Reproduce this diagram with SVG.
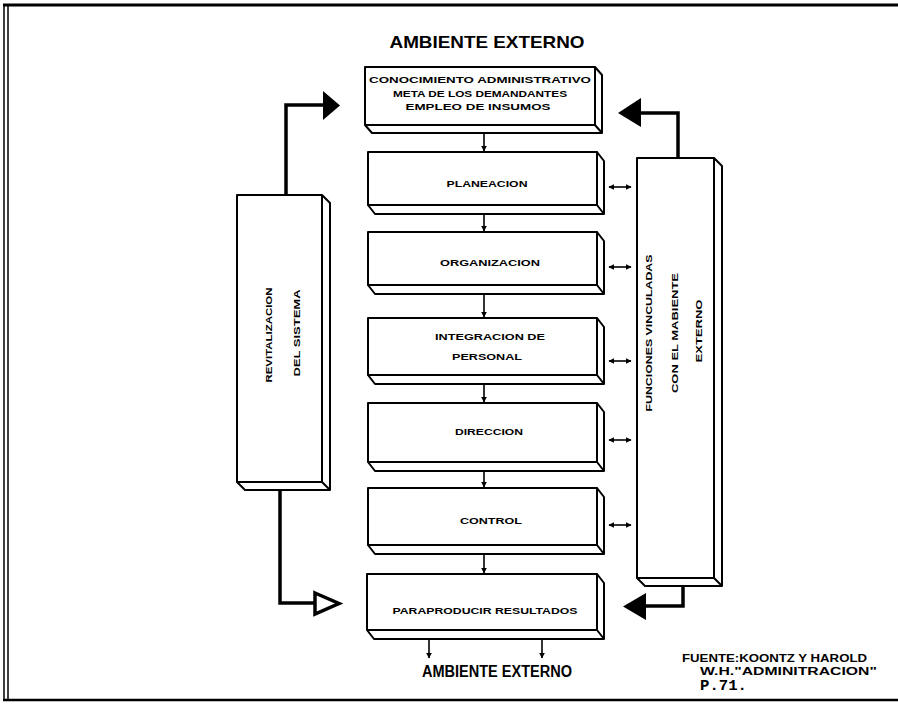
<svg xmlns="http://www.w3.org/2000/svg" width="898" height="707" viewBox="0 0 898 707">
<defs>
<marker id="ah" viewBox="0 0 10 10" refX="9" refY="5" markerWidth="6" markerHeight="6" markerUnits="userSpaceOnUse" orient="auto-start-reverse">
<path d="M0 0 L10 5 L0 10 Z" fill="#000"/>
</marker>
</defs>
<style>
.box{fill:#fff;stroke:#000;stroke-width:2;stroke-linejoin:round}
.face{fill:none;stroke:#000;stroke-width:2;stroke-linejoin:round}
.t{font-family:"Liberation Sans",Arial,sans-serif;font-weight:bold;font-size:9px;fill:#000;text-anchor:middle}
.big{font-family:"Liberation Sans",Arial,sans-serif;font-weight:bold;fill:#000;text-anchor:middle}
.thin{stroke:#000;stroke-width:1.6;fill:none}
.con{stroke:#000;stroke-width:3.5;fill:none;stroke-linejoin:miter}
</style>
<rect x="0" y="0" width="898" height="707" fill="#fff"/>
<g id="border" fill="none" stroke="#000">
<line x1="3" y1="5" x2="898" y2="5" stroke-width="3"/>
<line x1="4" y1="5" x2="4" y2="700" stroke-width="1.5"/>
<line x1="8" y1="5" x2="8" y2="700" stroke-width="1.5"/>
<line x1="3" y1="700" x2="898" y2="700" stroke-width="2.5"/>
</g>
<g id="title-top"><text class="big" x="487" y="48" font-size="17" textLength="195" lengthAdjust="spacingAndGlyphs">AMBIENTE EXTERNO</text></g>
<g id="title-bottom"><text class="big" x="497" y="677" font-size="16" textLength="150" lengthAdjust="spacingAndGlyphs">AMBIENTE EXTERNO</text></g>

<g id="n-conocimiento">
<rect class="box" x="365" y="67" width="230" height="58"/>
<path class="face" d="M595 67 L602 75 V133 H372 L365 125 M595 125 L602 133"/>
<text class="t" x="480" y="83" textLength="222" lengthAdjust="spacingAndGlyphs">CONOCIMIENTO ADMINISTRATIVO</text>
<text class="t" x="480" y="97" textLength="174" lengthAdjust="spacingAndGlyphs">META DE LOS DEMANDANTES</text>
<text class="t" x="478" y="110" textLength="145" lengthAdjust="spacingAndGlyphs">EMPLEO DE INSUMOS</text>
</g>
<g id="n-planeacion">
<rect class="box" x="368" y="152" width="229" height="53"/>
<path class="face" d="M597 152 L604 161 V214 H375 L368 205 M597 205 L604 214"/>
<text class="t" x="487" y="187" textLength="81" lengthAdjust="spacingAndGlyphs">PLANEACION</text>
</g>
<g id="n-organizacion">
<rect class="box" x="368" y="232" width="229" height="53"/>
<path class="face" d="M597 232 L604 241 V294 H375 L368 285 M597 285 L604 294"/>
<text class="t" x="490" y="266" textLength="100" lengthAdjust="spacingAndGlyphs">ORGANIZACION</text>
</g>
<g id="n-integracion">
<rect class="box" x="368" y="318" width="229" height="57"/>
<path class="face" d="M597 318 L604 327 V384 H375 L368 375 M597 375 L604 384"/>
<text class="t" x="490" y="340" textLength="110" lengthAdjust="spacingAndGlyphs">INTEGRACION DE</text>
<text class="t" x="487" y="360" textLength="70" lengthAdjust="spacingAndGlyphs">PERSONAL</text>
</g>
<g id="n-direccion">
<rect class="box" x="368" y="403" width="229" height="59"/>
<path class="face" d="M597 403 L604 412 V471 H375 L368 462 M597 462 L604 471"/>
<text class="t" x="489" y="435" textLength="68" lengthAdjust="spacingAndGlyphs">DIRECCION</text>
</g>
<g id="n-control">
<rect class="box" x="368" y="488" width="229" height="57"/>
<path class="face" d="M597 488 L604 497 V554 H375 L368 545 M597 545 L604 554"/>
<text class="t" x="491" y="524" textLength="62" lengthAdjust="spacingAndGlyphs">CONTROL</text>
</g>
<g id="n-resultados">
<rect class="box" x="367" y="574" width="230" height="56"/>
<path class="face" d="M597 574 L604 583 V639 H374 L367 630 M597 630 L604 639"/>
<text class="t" x="485" y="614" textLength="185" lengthAdjust="spacingAndGlyphs">PARAPRODUCIR RESULTADOS</text>
</g>
<g id="n-revitalizacion">
<rect class="box" x="237" y="195" width="85" height="287"/>
<path class="face" d="M322 195 L330 203 V490 H245 L237 482 M322 482 L330 490"/>
<text class="t" x="272" y="335" transform="rotate(-90 272 335)" textLength="95" lengthAdjust="spacingAndGlyphs">REVITALIZACION</text>
<text class="t" x="300" y="333" transform="rotate(-90 300 333)" textLength="87" lengthAdjust="spacingAndGlyphs">DEL SISTEMA</text>
</g>
<g id="n-funciones">
<rect class="box" x="637" y="158" width="77" height="420"/>
<path class="face" d="M714 158 L722 166 V586 H645 L637 578 M714 578 L722 586"/>
<text class="t" x="652" y="333" transform="rotate(-90 652 333)" textLength="157" lengthAdjust="spacingAndGlyphs">FUNCIONES VINCULADAS</text>
<text class="t" x="678" y="333" transform="rotate(-90 678 333)" textLength="120" lengthAdjust="spacingAndGlyphs">CON EL MABIENTE</text>
<text class="t" x="702" y="331" transform="rotate(-90 702 331)" textLength="63" lengthAdjust="spacingAndGlyphs">EXTERNO</text>
</g>

<g id="connectors">
<line class="thin" x1="484" y1="133" x2="484" y2="151" marker-end="url(#ah)"/>
<line class="thin" x1="484" y1="214" x2="484" y2="231" marker-end="url(#ah)"/>
<line class="thin" x1="484" y1="294" x2="484" y2="317" marker-end="url(#ah)"/>
<line class="thin" x1="484" y1="384" x2="484" y2="402" marker-end="url(#ah)"/>
<line class="thin" x1="484" y1="471" x2="484" y2="487" marker-end="url(#ah)"/>
<line class="thin" x1="484" y1="554" x2="484" y2="573" marker-end="url(#ah)"/>
<line class="thin" x1="429" y1="639" x2="429" y2="658" marker-end="url(#ah)"/>
<line class="thin" x1="542" y1="639" x2="542" y2="658" marker-end="url(#ah)"/>
<line class="thin" x1="609" y1="187" x2="631" y2="187" marker-start="url(#ah)" marker-end="url(#ah)"/>
<line class="thin" x1="609" y1="267" x2="631" y2="267" marker-start="url(#ah)" marker-end="url(#ah)"/>
<line class="thin" x1="609" y1="361" x2="631" y2="361" marker-start="url(#ah)" marker-end="url(#ah)"/>
<line class="thin" x1="609" y1="440" x2="631" y2="440" marker-start="url(#ah)" marker-end="url(#ah)"/>
<line class="thin" x1="609" y1="525" x2="631" y2="525" marker-start="url(#ah)" marker-end="url(#ah)"/>
<polyline class="con" points="286,195 286,105 324,105"/>
<polygon points="323,91 340,105.5 323,120" fill="#000"/>
<polyline class="con" points="678,158 678,113 639,113"/>
<polygon points="641,98 618,113 641,127" fill="#000"/>
<polyline class="con" points="280,490 280,603 318,603"/>
<polygon points="315,593 339,603.5 315,614" fill="#fff" stroke="#000" stroke-width="3.5" stroke-linejoin="miter"/>
<polyline class="con" points="683,586 683,606 644,606"/>
<polygon points="646,593 623,606.5 646,620" fill="#000"/>
</g>

<g id="source">
<text class="big" x="682" y="662" font-size="10.5" text-anchor="start" style="text-anchor:start" textLength="185" lengthAdjust="spacingAndGlyphs">FUENTE:KOONTZ Y HAROLD</text>
<text class="big" x="700" y="675" font-size="10" style="text-anchor:start" textLength="177" lengthAdjust="spacingAndGlyphs">W.H."ADMINITRACION"</text>
<text x="700" y="690" font-family="'Liberation Mono','Courier New',monospace" font-weight="bold" font-size="15" fill="#000" textLength="47" lengthAdjust="spacingAndGlyphs">P.71.</text>
</g>
</svg>
